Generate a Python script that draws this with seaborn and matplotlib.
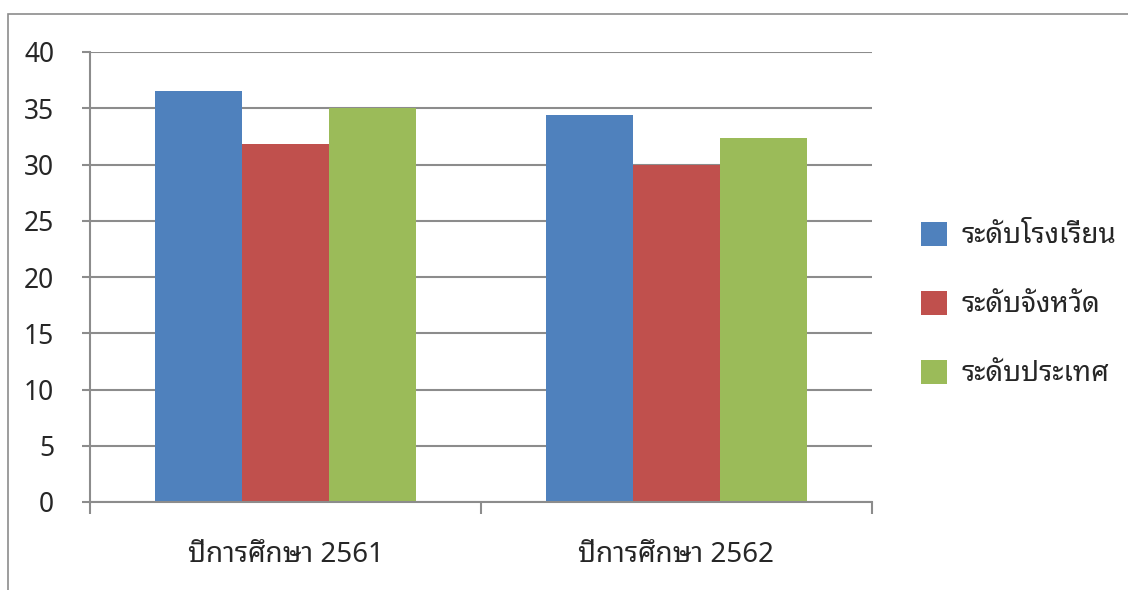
import numpy as np
import pandas as pd
import seaborn as sns
import matplotlib.pyplot as plt
from matplotlib.patches import Rectangle, Patch
from matplotlib.ticker import FixedLocator

years = ["ปีการศึกษา 2561", "ปีการศึกษา 2562"]
levels = ["ระดับโรงเรียน", "ระดับจังหวัด", "ระดับประเทศ"]
school = [36.5, 34.4]
province = [31.8, 30.0]
country = [35.0, 32.4]
colors = ["#4F81BD", "#C0504D", "#9BBB59"]

data = pd.DataFrame({
    "year": years * 3,
    "level": [levels[0]] * 2 + [levels[1]] * 2 + [levels[2]] * 2,
    "score": school + province + country,
})

sns.set_style("white")
plt.rcParams['font.family'] = ['Noto Sans Thai Looped', 'Noto Sans Thai', 'Sarabun', 'DejaVu Sans']

fig = plt.figure(figsize=(11.28, 5.9), dpi=100)
ax = fig.add_axes([90 / 1128, 1 - 502 / 590, 782 / 1128, 450 / 590])

sns.barplot(data=data, x="year", y="score", hue="level", order=years,
            hue_order=levels, palette=colors, width=0.667, gap=0,
            saturation=1, edgecolor="none", linewidth=0, ax=ax, legend=False)

ax.set_xlim(-0.5, 1.5)
ax.set_ylim(0, 40)
ax.set_yticks(np.arange(0, 41, 5))
ax.yaxis.grid(True, color="#8c8c8c", linewidth=1.5)
ax.set_axisbelow(True)
for s in ["top", "right"]:
    ax.spines[s].set_visible(False)
for s in ["left", "bottom"]:
    ax.spines[s].set_color("#8c8c8c")
    ax.spines[s].set_linewidth(1.5)
ax.set_xlabel("")
ax.set_ylabel("")

ax.tick_params(axis="y", direction="out", length=5.8, width=1.5, color="#8c8c8c",
               pad=20, labelsize=19, left=True)
ax.xaxis.set_minor_locator(FixedLocator([-0.5, 0.5, 1.5]))
ax.tick_params(axis="x", which="major", length=0, pad=28, labelsize=20)
ax.tick_params(axis="x", which="minor", direction="out", length=8.5, width=1.5,
               color="#8c8c8c", bottom=True)

handles = [Patch(facecolor=c, edgecolor="none") for c in colors]
fig.legend(handles, levels, loc="center left", bbox_to_anchor=(896 / 1128, 1 - 305 / 590),
           frameon=False, fontsize=20, handlelength=0.95, handleheight=0.95,
           labelspacing=1.45, handletextpad=0.5)

fig.patches.append(Rectangle((8 / 1128, -0.1), 1.2, 1.1 - 14 / 590,
                             transform=fig.transFigure, fill=False,
                             edgecolor="#8c8c8c", linewidth=1.2))

fig.savefig("out.png", dpi=100)
